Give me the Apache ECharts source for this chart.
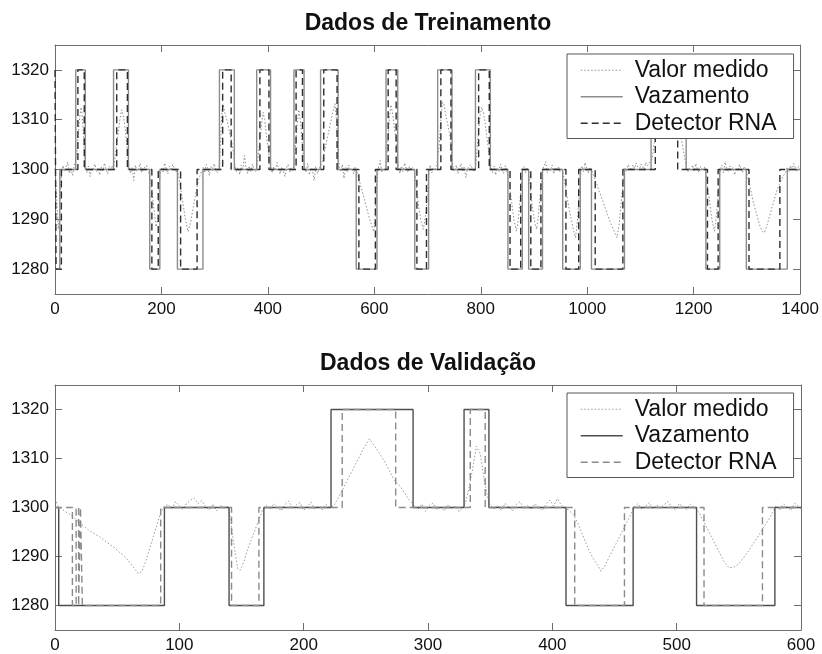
<!DOCTYPE html>
<html><head><meta charset="utf-8">
<script src="https://cdn.jsdelivr.net/npm/echarts@6/dist/echarts.min.js"></script>
<style>html,body{margin:0;padding:0;background:#fff}#c{width:822px;height:654px}</style>
</head><body><div id="c"></div>
<script>
const titles = ['Dados de Treinamento', 'Dados de Validação'];
const seriesNames = ['Valor medido', 'Vazamento', 'Detector RNA'];
const trainXRange = [0, 1400, 200];
const valXRange = [0, 600, 100];
const yRange = [1275, 1325];
const yTicks = [1280, 1290, 1300, 1310, 1320];

// Training data: [sample, value]
const trainMeasured = [
[0,1300.3],[2,1297],[4,1292],[6,1288],[8,1290],[10,1295],[12,1299],[15,1300.8],[18,1299.6],[21,1300.4],[24,1301.5],[27,1299.2],[30,1300.1],[33,1298.8],[36,1300.6],
[39,1300.2],[41,1303],[43,1306],[45,1309],[47,1311],[49,1312.5],[51,1311],[53,1308],[55,1304],[57,1301],
[60,1299.4],[63,1300.7],[66,1298.6],[69,1300.3],[72,1299.8],[75,1301.1],[78,1299.5],[81,1300.2],[84,1298.9],[87,1300.5],[90,1299.7],[93,1301.3],[96,1300],[99,1299.1],[102,1300.6],[105,1299.9],[108,1300.8],
[110,1300.3],[113,1302.5],[116,1305],[119,1307.5],[122,1310],[125,1312],[128,1311],[131,1309],[134,1306],[137,1302.5],[139,1300.6],
[142,1299.2],[145,1300.4],[148,1297.8],[151,1300.9],[154,1299.6],[157,1300.3],[160,1301.2],[163,1299.4],[166,1300.1],[169,1299.7],[172,1300.8],[175,1299.9],
[178,1299.8],[181,1297],[184,1294],[187,1291],[190,1288.5],[193,1290],[195,1294],[197,1298.5],
[200,1300.4],[203,1299.5],[206,1301.3],[209,1300.2],[212,1299.1],[215,1300.7],[218,1299.8],[221,1301],[224,1300.3],[227,1299.4],
[230,1300],[235,1297],[240,1293.5],[245,1290],[250,1287.5],[255,1289.5],[260,1292.5],[265,1295.5],[270,1298],[275,1299.5],[278,1300.5],
[281,1299.3],[284,1301],[287,1300.2],[290,1298.8],[293,1300.6],[296,1299.7],[299,1301.2],[302,1300],[305,1299.4],[308,1300.5],
[310,1303],[312,1308],[314,1312],[316,1313],[320,1311],[324,1309.5],[328,1307.5],[332,1305.5],[336,1303],[338,1300.8],
[341,1299.6],[344,1300.4],[347,1299],[350,1300.9],[353,1299.8],[356,1302.8],[359,1300.3],[362,1299.2],[365,1300.7],[368,1299.6],[371,1301.1],[374,1300],[377,1299.5],
[379,1300.2],[382,1303],[385,1306],[388,1309],[391,1311.5],[394,1310],[397,1307],[400,1304.5],[403,1302],[405,1300.8],
[408,1299.3],[411,1300.6],[414,1299.8],[417,1301.4],[420,1300.2],[423,1299.1],[426,1300.5],[429,1299.7],[432,1298.6],[435,1300.3],[438,1301],[441,1299.5],[444,1300.4],[447,1299.9],
[449,1301],[452,1305],[455,1309],[458,1312],[461,1310],[464,1306],[467,1302],[469,1300.4],
[472,1299.4],[475,1301.2],[478,1298.9],[481,1300.3],[484,1299.7],[487,1297.8],[490,1300.6],[493,1299.2],[496,1300.1],
[499,1300.2],[502,1301.5],[506,1303.5],[510,1305.5],[514,1307.5],[518,1309.5],[522,1311.5],[526,1313.2],[529,1310],[532,1303],[534,1300.6],
[537,1299.5],[540,1301],[543,1298.2],[546,1300.4],[549,1299.6],[552,1300.9],[555,1299.8],[558,1300.3],[561,1299.1],[564,1300.5],
[566,1300],[570,1298.5],[575,1296.5],[580,1294.5],[585,1292.5],[590,1290.5],[595,1288.8],[599,1287.5],[602,1291],[605,1298],
[608,1300.6],[611,1301.8],[614,1299.4],[617,1300.2],[620,1299.7],
[622,1300.5],[625,1305],[628,1310],[631,1313],[634,1311.5],[637,1309],[640,1306.5],[643,1304],[645,1300.8],
[648,1299.2],[651,1300.7],[654,1299.6],[657,1301.3],[660,1300.1],[663,1299.4],[666,1300.6],[669,1299.9],[672,1300.4],[675,1299.5],
[677,1298.5],[680,1295.5],[684,1292],[688,1289.5],[692,1288],[696,1290.5],[699,1294],[702,1298.5],
[705,1300.9],[708,1299.3],[711,1300.4],[714,1299.8],[717,1300.6],
[719,1300.2],[722,1305],[725,1310],[728,1313.5],[731,1313],[734,1311],[737,1309.5],[740,1308],[743,1306],[746,1302.5],[748,1300.4],
[751,1299.6],[754,1300.9],[757,1299.2],[760,1300.3],[763,1301.2],[766,1299.7],[769,1300.5],[772,1298.4],[775,1300.1],[778,1299.8],[781,1301],[784,1300.2],[787,1299.5],
[790,1300.4],[793,1304],[796,1308],[799,1311],[802,1312.5],[805,1311.5],[808,1309.5],[811,1307],[814,1304.5],[817,1302],[819,1300.6],
[822,1299.4],[825,1300.7],[828,1298.9],[831,1300.3],[834,1299.6],[837,1301.1],[840,1300],[843,1299.2],[846,1300.8],[849,1299.7],
[852,1298.5],[855,1296],[858,1293.5],[861,1291],[864,1289],[867,1287.6],[870,1289.5],[873,1293],[876,1296.5],[878,1299.5],
[881,1300.6],[884,1299.3],[887,1300.4],
[890,1299.5],[893,1296.5],[896,1293.5],[899,1291],[902,1289],[905,1288],[908,1290.5],[911,1294],[914,1297.5],[916,1299.8],
[919,1300.8],[922,1301.6],[925,1299.4],[928,1300.2],[931,1299.7],[934,1300.9],[937,1299.1],[940,1300.4],[943,1299.8],[946,1300.6],[949,1299.5],[952,1300.3],
[955,1299],[959,1296.5],[963,1294],[967,1291.5],[971,1289.5],[975,1287.5],[978,1286.3],[981,1289],[984,1293.5],[987,1298.5],
[990,1300.7],[993,1299.6],[996,1301.4],[999,1300.1],[1002,1299.3],[1005,1300.5],
[1008,1300],[1013,1298.5],[1018,1297],[1023,1295.5],[1028,1294],[1033,1292.5],[1038,1291],[1043,1289.5],[1048,1288.2],[1053,1287],[1056,1286.3],[1060,1289],[1064,1293.5],[1068,1298],
[1071,1300.3],[1074,1299.5],[1077,1301],[1080,1300.4],[1083,1299.8],[1086,1300.9],[1089,1300.2],[1092,1301.3],[1095,1300.5],[1098,1299.9],[1101,1301.1],[1104,1300.6],[1107,1300],[1110,1301.4],[1113,1300.7],[1116,1301.2],[1119,1300.8],
[1122,1302],[1125,1304.5],[1128,1306.5],[1133,1308.5],[1140,1310.5],[1148,1312],[1155,1312.5],[1162,1311.5],[1168,1310],[1174,1307.5],[1179,1305],[1183,1302.5],[1186,1300.8],
[1189,1299.5],[1192,1300.3],[1195,1299.8],[1198,1300.9],[1201,1299.6],[1204,1301.2],[1207,1300.1],[1210,1299.4],[1213,1300.6],[1216,1300],[1219,1299.7],[1222,1300.5],
[1224,1298.5],[1227,1296],[1230,1293.5],[1233,1291],[1236,1289],[1239,1287.6],[1242,1290],[1245,1293.5],[1248,1297.5],[1250,1299.8],
[1253,1300.9],[1256,1299.3],[1259,1301.5],[1262,1300.2],[1265,1299.6],[1268,1300.7],[1271,1299.8],[1274,1300.4],[1277,1298.9],[1280,1300.3],[1283,1299.7],[1286,1301],[1289,1300.1],[1292,1299.4],[1295,1300.6],[1298,1300],
[1301,1299],[1305,1297],[1309,1295],[1313,1293],[1317,1291.5],[1321,1290],[1325,1288.5],[1329,1287.6],[1333,1287.3],[1337,1288.5],[1341,1290],[1345,1291.5],[1349,1293],[1353,1294.5],[1357,1296],[1361,1297],[1365,1298],[1369,1298.8],[1373,1299.4],[1376,1300.5],
[1379,1299.6],[1382,1300.8],[1385,1299.9],[1388,1301.2],[1391,1300.3],[1394,1299.5],[1397,1300.6],[1400,1300.2]
];
const trainLeak = [
[0,1280],[9,1300],[39,1320],[57,1300],[110,1320],[138,1300],[178,1280],[197,1300],[230,1280],[278,1300],
[309,1320],[337,1300],[379,1320],[405,1300],[449,1320],[468,1300],[499,1320],[532,1300],[566,1280],[605,1300],
[622,1320],[644,1300],[676,1280],[702,1300],[719,1320],[746,1300],[790,1320],[818,1300],[851,1280],[878,1300],
[890,1280],[916,1300],[954,1280],[987,1300],[1008,1280],[1070,1300],[1120,1320],[1186,1300],[1223,1280],[1249,1300],
[1299,1280],[1376,1300],[1400,1300]
];
const trainDetector = [
[0,1320],[2,1280],[12,1300],[43,1320],[55,1300],[116,1320],[136,1300],[182,1280],[194,1300],[236,1280],[267,1300],
[315,1320],[331,1300],[385,1320],[402,1300],[453,1320],[465,1300],[505,1320],[530,1300],[571,1280],[602,1300],
[626,1320],[641,1300],[680,1280],[698,1300],[725,1320],[744,1300],[796,1320],[816,1300],[855,1280],[875,1300],
[894,1280],[913,1300],[960,1280],[984,1300],[1015,1280],[1067,1300],[1128,1320],[1170,1300],[1226,1280],[1246,1300],
[1304,1280],[1362,1300],[1400,1300]
];

// Validation data
const valMeasured = [
[0,1301.8],[2,1300.5],[4,1300],[8,1299.2],[12,1298.6],[16,1297.8],[20,1296.8],[24,1296],[28,1295.2],[32,1294.6],[36,1294],[40,1293.2],[44,1292.5],[48,1291.8],[52,1290.8],[56,1290],[60,1288.8],[64,1287.5],[67,1286.5],[70,1287],[73,1289],[76,1291.5],[79,1294],[82,1296.5],[85,1299],[88,1300.3],
[91,1300.6],[94,1299.8],[97,1301.2],[100,1300.3],[103,1299.6],[106,1300.9],[109,1301.5],[112,1301.9],[115,1300.8],[118,1301.4],[121,1300.2],[124,1299.5],[127,1300.7],[130,1299.3],[133,1300.4],[136,1299.9],[139,1300.2],
[141,1298],[143,1294],[145,1290.5],[147,1287.5],[149,1287.2],[152,1289],[155,1291.5],[158,1293.5],[161,1295.5],[164,1297.5],[167,1299.5],
[170,1300.4],[173,1299.6],[176,1300.8],[179,1300.1],[182,1299.3],[185,1300.6],[188,1301.3],[191,1299.8],[194,1300.5],[197,1301],[200,1299.4],[203,1300.2],[206,1301.1],[209,1299.7],[212,1300.3],[215,1299.5],[218,1300.6],[221,1300],
[224,1300.3],[228,1302],[232,1304],[236,1306],[240,1308],[244,1310],[248,1312],[253,1314],[257,1312.5],[261,1311],[265,1309.5],[269,1307.5],[273,1305.5],[277,1304.5],[281,1303],[285,1301.5],[289,1300.3],
[292,1299.6],[295,1300.7],[298,1299.2],[301,1300.4],[304,1300.9],[307,1299.5],[310,1300.1],[313,1299.3],[316,1300.6],[319,1299.8],[322,1300.3],[325,1299.1],[328,1300.2],
[330,1300.8],[333,1304],[336,1308],[339,1312.5],[342,1311],[345,1306],[348,1302],[350,1300.4],
[353,1299.7],[356,1300.5],[359,1299.4],[362,1300.9],[365,1300.1],[368,1299.3],[371,1300.6],[374,1301.2],[377,1299.8],[380,1300.4],[383,1299.5],[386,1300.8],[389,1300],[392,1299.4],[395,1300.7],[398,1301.5],[401,1300.3],[404,1301.8],[407,1300.6],[410,1299.8],
[413,1299.5],[417,1298.5],[421,1296.5],[425,1294],[429,1291.5],[433,1289.5],[437,1288],[439,1287],[442,1288],[445,1289.5],[448,1291],[451,1292.5],[454,1294],[457,1295.5],[460,1297],[463,1298.5],[466,1300.2],
[469,1300.8],[472,1299.6],[475,1300.3],[478,1301],[481,1299.7],[484,1300.5],[487,1299.9],[490,1300.6],[493,1301.2],[496,1300.1],[499,1299.5],[502,1300.8],[505,1300.2],[508,1299.6],[511,1300.7],[514,1300],
[518,1299],[522,1297],[526,1295],[530,1293],[534,1291],[538,1289],[542,1287.7],[546,1287.8],[550,1288.5],[554,1289.8],[558,1291.2],[562,1292.8],[566,1294.3],[570,1296],[574,1297.5],[577,1299],[580,1300.3],
[583,1299.5],[586,1300.7],[589,1300.1],[592,1299.4],[595,1300.9],[598,1300.2],[600,1299.8]
];
const valLeak = [
[0,1300],[3,1280],[88,1300],[140,1280],[168,1300],[222,1320],[288,1300],[329,1320],[349,1300],
[411,1280],[465,1300],[516,1280],[579,1300],[600,1300]
];
const valDetector = [
[0,1300],[14,1280],[17,1300],[19,1280],[20.5,1300],[22,1280],[85,1300],[142,1280],[164,1300],[231,1320],[274,1300],
[334,1320],[346,1300],[418,1280],[458,1300],[522,1280],[569,1300],[600,1300]
];

const FONT = "'Liberation Sans', Arial, sans-serif";
const AXIS_COLOR = '#6e6e6e';
const grids = [
  {left: 55, right: 21, top: 45, height: 249},
  {left: 55, right: 21, top: 385, height: 248}
];

function xAxes(gi, r) {
  const base = {gridIndex: gi, type: 'value', min: r[0], max: r[1], interval: r[2],
    axisLine: {show: true, onZero: false, lineStyle: {color: AXIS_COLOR, width: 1}},
    axisTick: {show: true, inside: true, length: 7, lineStyle: {color: AXIS_COLOR}},
    splitLine: {show: false}};
  return [
    Object.assign({}, base, {position: 'bottom', axisLabel: {show: true, margin: 7, color: '#111', fontSize: 17, fontFamily: FONT, formatter: v => String(v)}}),
    Object.assign({}, base, {position: 'top', axisLabel: {show: false}})
  ];
}
function yAxes(gi) {
  const base = {gridIndex: gi, type: 'value', min: yRange[0], max: yRange[1],
    axisLine: {show: true, onZero: false, lineStyle: {color: AXIS_COLOR, width: 1}},
    axisTick: {show: true, inside: true, length: 7, customValues: yTicks, lineStyle: {color: AXIS_COLOR}},
    splitLine: {show: false}};
  return [
    Object.assign({}, base, {position: 'left', axisLabel: {show: true, margin: 6, color: '#111', fontSize: 17, fontFamily: FONT, customValues: yTicks, formatter: v => String(v)}}),
    Object.assign({}, base, {position: 'right', axisLabel: {show: false}})
  ];
}

const styles = [
  {meas: '#8e8e8e', leak: '#8c8c8c', det: '#2e2e2e'},
  {meas: '#9a9a9a', leak: '#4e4e4e', det: '#8a8a8a'}
];
const lineTypes = [[1.5, 2], 'solid', [7, 4]];
const lineWidths = [1, 1.4, 1.4];
const datasets = [
  [trainMeasured, trainLeak, trainDetector],
  [valMeasured, valLeak, valDetector]
];

const series = [];
datasets.forEach((ds, gi) => {
  const st = styles[gi];
  const cols = [st.meas, st.leak, st.det];
  ds.forEach((d, k) => {
    const s = {name: seriesNames[k], type: 'line', xAxisIndex: gi * 2, yAxisIndex: gi * 2, data: d,
      symbol: 'none', lineStyle: {color: cols[k], width: lineWidths[k], type: lineTypes[k]},
      itemStyle: {color: cols[k]}, z: 2 + k};
    if (k > 0) s.step = 'end';
    series.push(s);
  });
});

function legendFor(gi, top) {
  const st = styles[gi];
  const cols = [st.meas, st.leak, st.det];
  return {
    orient: 'vertical', left: 567, top: top, itemWidth: 42, itemHeight: 14, itemGap: 0,
    padding: [3, 17, 2, 13], backgroundColor: '#fff', borderColor: '#555', borderWidth: 1, borderRadius: 0,
    selectedMode: false, z: 10,
    itemStyle: {color: 'rgba(0,0,0,0)', borderColor: 'rgba(0,0,0,0)', borderWidth: 0, opacity: 0},
    textStyle: {fontSize: 23, color: '#111', fontFamily: FONT, lineHeight: 26.5, padding: [0, 0, 0, 7]},
    data: seriesNames.map((n, k) => ({name: n,
      lineStyle: {color: cols[k], width: lineWidths[k], type: lineTypes[k]},
      itemStyle: {color: 'rgba(0,0,0,0)', borderColor: 'rgba(0,0,0,0)', borderWidth: 0, opacity: 0}}))
  };
}

const chart = echarts.init(document.getElementById('c'), null, {renderer: 'canvas'});
chart.setOption({
  animation: false,
  backgroundColor: '#fff',
  title: [
    {text: titles[0], left: 428, top: 12, padding: 0, textAlign: 'center', textStyle: {fontSize: 23, fontWeight: 'bold', color: '#111', fontFamily: FONT}},
    {text: titles[1], left: 428, top: 352, padding: 0, textAlign: 'center', textStyle: {fontSize: 23, fontWeight: 'bold', color: '#111', fontFamily: FONT}}
  ],
  grid: grids,
  xAxis: [].concat(xAxes(0, trainXRange), xAxes(1, valXRange)),
  yAxis: [].concat(yAxes(0), yAxes(1)),
  legend: [legendFor(0, 54), legendFor(1, 393)],
  series: series
});
</script>
</body></html>
